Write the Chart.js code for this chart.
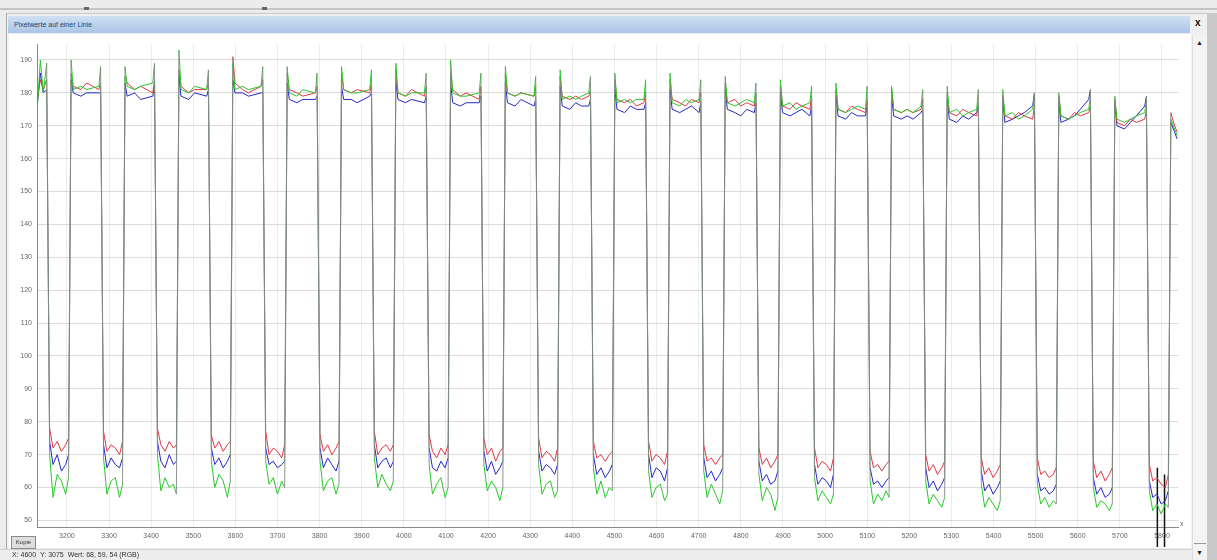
<!DOCTYPE html>
<html>
<head>
<meta charset="utf-8">
<title>Pixelwerte auf einer Linie</title>
<script src="https://cdn.jsdelivr.net/npm/chart.js@4.4.1/dist/chart.umd.min.js"></script>
<style>
  body { margin: 0; width: 1217px; height: 560px; background: #ececec; position: relative; overflow: hidden;
         font-family: 'Liberation Sans', Arial, sans-serif; }
  .topline { position: absolute; left: 0; top: 8px; width: 1217px; height: 2px; background: #c4c4c4; }
  .dot { position: absolute; top: 7px; width: 5px; height: 3px; background: #666; }
  .win { position: absolute; left: 6px; top: 13px; width: 1210px; height: 547px; background: #f0f0f0;
         border-left: 1px solid #a8a8a8; border-top: 1px solid #c8c8c8; }
  .titlebar { position: absolute; left: 8px; top: 16px; width: 1176px; height: 17px; padding-left: 6px;
              background: linear-gradient(#cfe0f3, #a9c5e6); font-size: 7px; line-height: 17px; color: #2c446e; }
  .close { position: absolute; left: 1195px; top: 17px; font-size: 10px; font-weight: bold; color: #111; }
  .panel { position: absolute; left: 9px; top: 34px; width: 1182px; height: 514px; background: #fff; }
  canvas { position: absolute; left: 8px; top: 35px; }
  .xname { position: absolute; left: 1180px; top: 520px; font-size: 7px; color: #666; }
  .btn { position: absolute; left: 11px; top: 536px; width: 23px; height: 11px; border: 1px solid #8a8a8a;
         background: #dedede; font-size: 6px; line-height: 11px; text-align: center; color: #333; z-index: 2; }
  .status { position: absolute; left: 0; top: 549px; width: 1192px; height: 11px; background: #ededed;
            border-top: 1px solid #d0d0d0; }
  .status span { position: absolute; left: 12px; top: 1px; font-size: 7px; color: #333; }
  .scroll { position: absolute; left: 1192px; top: 35px; width: 14px; height: 525px; background: #f4f4f4;
            border-left: 1px solid #dcdcdc; }
  .scroll2 { position: absolute; left: 1207px; top: 13px; width: 10px; height: 547px; background: #c9c9c9; }
  .arr { position: absolute; left: 1196px; font-size: 7px; color: #222; }
  .sline { position: absolute; left: 1194px; top: 543px; width: 12px; height: 1px; background: #999; }
</style>
</head>
<body>
<div class="topline"></div>
<div class="dot" style="left:84px"></div>
<div class="dot" style="left:262px"></div>
<div class="win"></div>
<div class="scroll2"></div>
<div class="titlebar">Pixelwerte auf einer Linie</div>
<div class="close">x</div>
<div class="panel"></div>
<div class="scroll"></div>
<div class="arr" style="top:39px">&#9650;</div>
<div class="sline"></div>
<div class="arr" style="top:549px">&#9660;</div>
<canvas id="linie" width="1184" height="512"></canvas>
<div class="xname">x</div>
<div class="btn">Kopie</div>
<div class="status"><span>X: 4600 &nbsp;Y: 3075 &nbsp;Wert: 68, 59, 54 (RGB)</span></div>

<script>
// Positions along the line (x) and the pixel values
const positions = [
  3130, 3137, 3144,
  3152, 3159, 3167, 3177, 3187, 3197, 3204, 3210, 3215, 3233, 3247, 3276,
  3280, 3287, 3295, 3305, 3315, 3325, 3332, 3338, 3343, 3361, 3375, 3404,
  3408, 3415, 3423, 3433, 3443, 3453, 3460, 3466, 3471, 3489, 3503, 3532,
  3536, 3543, 3551, 3561, 3571, 3581, 3588, 3594, 3599, 3617, 3631, 3661,
  3665, 3672, 3680, 3690, 3700, 3710, 3717, 3723, 3728, 3746, 3760, 3790,
  3794, 3801, 3809, 3819, 3829, 3839, 3846, 3852, 3857, 3875, 3889, 3919,
  3923, 3930, 3938, 3948, 3958, 3968, 3975, 3981, 3986, 4004, 4018, 4049,
  4053, 4060, 4068, 4078, 4088, 4098, 4105, 4111, 4116, 4134, 4148, 4179,
  4183, 4190, 4198, 4208, 4218, 4228, 4235, 4241, 4246, 4264, 4278, 4309,
  4313, 4320, 4328, 4338, 4348, 4358, 4365, 4371, 4376, 4394, 4408, 4422, 4439,
  4443, 4450, 4458, 4468, 4478, 4488, 4495, 4501, 4506, 4524, 4538, 4552, 4570,
  4574, 4581, 4589, 4599, 4609, 4619, 4626, 4632, 4637, 4655, 4669, 4683, 4701,
  4705, 4712, 4720, 4730, 4740, 4750, 4757, 4763, 4768, 4786, 4800, 4814, 4832,
  4836, 4843, 4851, 4861, 4871, 4881, 4888, 4894, 4899, 4917, 4931, 4945, 4964,
  4968, 4975, 4983, 4993, 5003, 5013, 5020, 5026, 5031, 5049, 5063, 5077, 5096,
  5100, 5107, 5115, 5125, 5135, 5145, 5152, 5158, 5163, 5181, 5195, 5209, 5228,
  5232, 5239, 5247, 5257, 5267, 5277, 5284, 5290, 5295, 5313, 5327, 5341, 5360,
  5364, 5371, 5379, 5389, 5399, 5409, 5416, 5422, 5427, 5445, 5459, 5473, 5493,
  5497, 5504, 5512, 5522, 5532, 5542, 5549, 5555, 5560, 5578, 5592, 5606, 5626,
  5630, 5637, 5645, 5655, 5665, 5675, 5682, 5688, 5693, 5711, 5725, 5739, 5759,
  5763, 5770, 5778, 5788, 5798, 5808, 5815, 5821, 5830, 5836
];

const red = [
  178, 184, 181,
  184, 78, 72, 74, 71, 73, 75, 186, 182, 181, 183, 181,
  183, 77, 71, 73, 72, 70, 74, 185, 183, 181, 182, 180,
  184, 78, 73, 71, 74, 72, 73, 187, 182, 180, 181, 181,
  183, 76, 72, 74, 71, 73, 74, 191, 183, 181, 180, 182,
  184, 77, 70, 72, 71, 69, 73, 186, 181, 180, 179, 180,
  182, 76, 71, 73, 70, 72, 74, 186, 181, 180, 181, 180,
  183, 77, 70, 72, 73, 71, 73, 187, 180, 179, 181, 179,
  182, 76, 71, 69, 72, 70, 73, 186, 181, 179, 180, 178,
  182, 75, 70, 72, 68, 71, 72, 186, 180, 179, 180, 179,
  182, 75, 69, 71, 70, 68, 72, 185, 179, 178, 179, 178, 179,
  181, 74, 69, 70, 68, 70, 71, 184, 178, 177, 178, 176, 177,
  180, 74, 68, 70, 69, 67, 71, 184, 178, 177, 176, 178, 177,
  180, 73, 68, 69, 67, 69, 70, 183, 177, 178, 176, 177, 176,
  180, 72, 67, 69, 66, 68, 70, 182, 176, 175, 177, 176, 175,
  179, 72, 66, 68, 67, 65, 69, 181, 175, 174, 176, 175, 174,
  178, 71, 66, 67, 65, 67, 68, 181, 175, 174, 175, 174, 175,
  178, 70, 65, 67, 64, 66, 68, 180, 174, 173, 175, 174, 173,
  177, 69, 64, 66, 63, 65, 67, 179, 173, 172, 174, 173, 172,
  176, 69, 64, 65, 63, 64, 66, 179, 173, 172, 174, 173, 174,
  176, 68, 63, 65, 62, 64, 66, 178, 171, 170, 172, 171, 172,
  175, 67, 62, 63, 61, 60, 64, 174, 170, 168
];

const green = [
  176, 190, 180,
  189, 70, 57, 64, 62, 58, 63, 190, 181, 182, 181, 182,
  188, 69, 58, 62, 63, 57, 61, 188, 182, 181, 182, 183,
  189, 70, 59, 63, 60, 61, 58, 193, 181, 180, 182, 181,
  187, 68, 60, 64, 62, 57, 62, 189, 181, 182, 181, 182,
  188, 68, 61, 63, 58, 62, 60, 188, 180, 179, 181, 180,
  186, 68, 59, 62, 63, 58, 61, 188, 181, 180, 180, 181,
  187, 69, 60, 64, 61, 59, 62, 189, 180, 179, 180, 180,
  186, 67, 58, 61, 63, 57, 60, 190, 180, 179, 179, 180,
  186, 67, 59, 62, 60, 56, 60, 188, 180, 179, 180, 179,
  185, 67, 58, 61, 62, 57, 59, 187, 178, 179, 178, 179, 180,
  185, 66, 58, 62, 57, 60, 59, 186, 177, 178, 177, 178, 178,
  184, 65, 57, 60, 61, 56, 58, 186, 177, 176, 178, 177, 178,
  184, 65, 57, 61, 58, 55, 59, 185, 177, 176, 177, 178, 177,
  183, 64, 56, 60, 58, 53, 57, 184, 176, 177, 175, 176, 177,
  182, 63, 56, 59, 57, 55, 58, 183, 175, 174, 175, 176, 175,
  182, 62, 55, 58, 56, 59, 57, 182, 175, 174, 175, 174, 176,
  181, 62, 55, 58, 56, 54, 57, 182, 174, 175, 173, 174, 175,
  181, 61, 54, 57, 55, 53, 56, 181, 173, 174, 172, 173, 175,
  179, 61, 55, 57, 54, 56, 55, 180, 173, 172, 173, 174, 175,
  179, 60, 54, 56, 55, 53, 55, 179, 172, 171, 172, 173, 174,
  178, 59, 53, 55, 52, 55, 54, 172, 169, 167
];

const blue = [
  177, 186, 180,
  181, 74, 67, 70, 65, 67, 70, 184, 180, 179, 180, 180,
  180, 73, 66, 69, 67, 66, 69, 183, 179, 180, 178, 179,
  182, 74, 68, 66, 70, 67, 68, 185, 179, 178, 180, 179,
  181, 72, 67, 69, 66, 68, 70, 184, 180, 180, 179, 180,
  180, 72, 67, 68, 66, 67, 68, 183, 178, 177, 178, 178,
  179, 72, 66, 69, 67, 65, 68, 182, 178, 178, 177, 179,
  180, 73, 66, 68, 69, 66, 68, 183, 178, 177, 178, 177,
  179, 72, 66, 65, 68, 66, 69, 183, 177, 176, 177, 177,
  179, 71, 65, 68, 64, 66, 68, 183, 177, 176, 178, 176,
  178, 71, 65, 67, 66, 64, 67, 182, 176, 175, 177, 176, 176,
  178, 70, 64, 66, 63, 65, 67, 181, 175, 174, 176, 175, 175,
  177, 70, 63, 66, 65, 62, 66, 181, 175, 174, 175, 176, 174,
  177, 69, 63, 65, 62, 64, 66, 181, 175, 174, 173, 175, 174,
  177, 68, 62, 64, 61, 62, 65, 180, 174, 173, 174, 175, 173,
  176, 67, 61, 63, 62, 60, 64, 179, 173, 172, 174, 173, 173,
  176, 66, 61, 62, 60, 62, 63, 179, 173, 172, 173, 172, 174,
  175, 66, 60, 62, 59, 61, 63, 178, 172, 171, 173, 172, 174,
  176, 65, 59, 61, 58, 60, 62, 178, 171, 172, 173, 174, 176,
  180, 64, 59, 60, 58, 59, 61, 177, 171, 172, 173, 175, 178,
  181, 63, 58, 60, 57, 58, 60, 177, 170, 169, 171, 173, 176,
  179, 62, 57, 58, 55, 56, 59, 171, 168, 166
];

// black cursor lines near the right end
const markerX = [5789, 5789, 5797, 5806, 5806];
const markerY = [66, 41, null, 64, 41];

const xTicks = [3200, 3300, 3400, 3500, 3600, 3700, 3800, 3900, 4000, 4100, 4200, 4300, 4400,
  4500, 4600, 4700, 4800, 4900, 5000, 5100, 5200, 5300, 5400, 5500, 5600, 5700, 5800];
const yTicks = [50, 60, 70, 80, 90, 100, 110, 120, 130, 140, 150, 160, 170, 180, 190];

const toPoints = vals => positions.map((x, i) => ({ x: x, y: vals[i] }));

// steep edges look grey in the original (all three channels overlap there)
const edgeColor = ctx => Math.abs(ctx.p0.parsed.y - ctx.p1.parsed.y) > 40 ? 'rgba(125,140,125,0.9)' : undefined;

function line(label, vals, color) {
  return {
    label: label,
    data: toPoints(vals),
    borderColor: color,
    borderWidth: 1,
    pointRadius: 0,
    tension: 0,
    segment: { borderColor: edgeColor }
  };
}

const tickFont = { family: 'Liberation Sans', size: 7 };

new Chart(document.getElementById('linie'), {
  type: 'line',
  data: {
    datasets: [
      line('G', green, 'rgb(40,200,40)'),
      line('R', red, 'rgb(225,55,70)'),
      line('B', blue, 'rgb(35,40,200)'),
      {
        label: 'Cursor',
        data: markerX.map((x, i) => ({ x: x, y: markerY[i] })),
        borderColor: '#111',
        borderWidth: 1.5,
        pointRadius: 0,
        spanGaps: false,
        clip: false
      }
    ]
  },
  options: {
    responsive: false,
    animation: false,
    events: [],
    layout: { padding: { top: 3, right: 14, left: 0, bottom: 0 } },
    plugins: { legend: { display: false }, tooltip: { enabled: false } },
    scales: {
      x: {
        type: 'linear',
        min: 3129,
        max: 5838,
        afterFit: s => { s.height = 20; },
        afterBuildTicks: s => { s.ticks = xTicks.map(v => ({ value: v })); },
        grid: { color: 'rgba(0,0,0,0.07)', drawTicks: false },
        border: { color: '#8a8a8a' },
        ticks: { autoSkip: false, maxRotation: 0, padding: 5, color: '#666', font: tickFont,
                 callback: v => String(v) }
      },
      y: {
        min: 48,
        max: 194.8,
        afterFit: s => { s.width = 29; },
        afterBuildTicks: s => { s.ticks = yTicks.map(v => ({ value: v })); },
        grid: { color: 'rgba(0,0,0,0.14)', drawTicks: false },
        border: { color: '#8a8a8a' },
        ticks: { padding: 5, color: '#666', font: tickFont, callback: v => String(v) }
      }
    }
  }
});
</script>
</body>
</html>
